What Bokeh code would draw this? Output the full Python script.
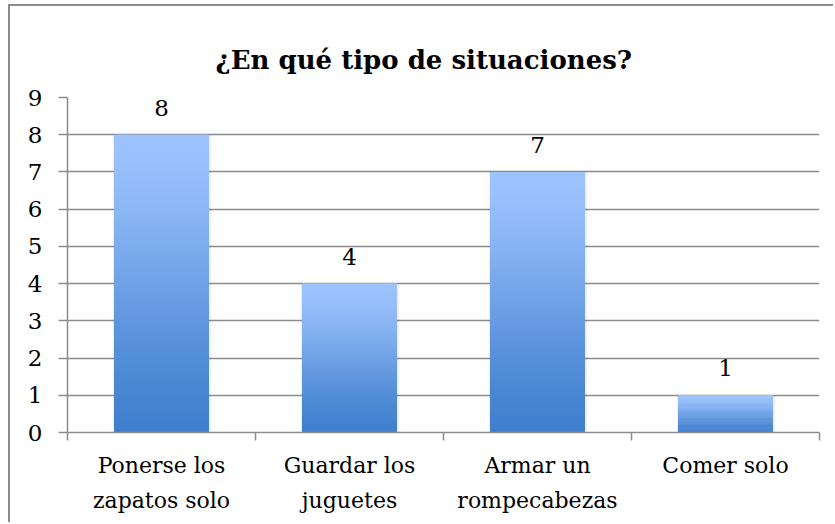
from bokeh.plotting import figure
from bokeh.models import Range1d, FixedTicker
from bokeh.core.properties import value
from bokeh.embed import file_html
from bokeh.resources import INLINE

categories = ["Ponerse los zapatos solo", "Guardar los juguetes", "Armar un rompecabezas", "Comer solo"]
tick_labels = ["Ponerse los\nzapatos solo", "Guardar los\njuguetes", "Armar un\nrompecabezas", "Comer solo"]
values = [8, 4, 7, 1]
y_ticks = [0, 1, 2, 3, 4, 5, 6, 7, 8, 9]
title_text = "¿En qué tipo de situaciones?"

FONT = "DejaVu Serif"
GRID = "#8c8c8c"

p = figure(width=825, height=518, output_backend="svg", toolbar_location=None,
           x_range=Range1d(0, len(categories)), y_range=Range1d(0, 9),
           min_border_left=57, min_border_right=16, min_border_top=91, min_border_bottom=92,
           title=title_text)
p.outline_line_color = None
p.background_fill_color = "white"
p.border_fill_color = "white"
p.styles = {"border-left": "2px solid #8c8c8c", "border-top": "2px solid #8c8c8c",
            "margin-left": "8px", "margin-top": "4px"}

p.title.align = "left"
p.title.offset = 148
p.title.standoff = 46
p.title.text_font = FONT
p.title.text_font_size = "26px"
p.title.text_font_style = "bold"
p.title.text_color = "black"

# gradient bars: slices whose colours go from dark (bottom) to light (top)
bottom_rgb = (64, 127, 206)
top_rgb = (158, 196, 255)
N = 80
xs = [i + 0.5 for i in range(len(categories))]
bw = 0.505
L, R, B, T, C = [], [], [], [], []
for x, v in zip(xs, values):
    for k in range(N):
        f = (k + 0.5) / N
        g = f * f * (3 - 2 * f)
        g = 0.5 * g + 0.5 * f
        rgb = tuple(int(round(b + (t - b) * g)) for b, t in zip(bottom_rgb, top_rgb))
        L.append(x - bw / 2); R.append(x + bw / 2)
        B.append(v * k / N); T.append(min(v, v * (k + 2) / N))
        C.append("#%02x%02x%02x" % rgb)
# soft shadow
p.quad(left=[x - bw / 2 - 0.006 for x in xs], right=[x + bw / 2 + 0.012 for x in xs],
       bottom=[0] * len(values), top=[v + 0.01 for v in values],
       fill_color="#000000", fill_alpha=0.06, line_color=None)
p.quad(left=L, right=R, bottom=B, top=T, fill_color=C, line_color=None)

p.text(x=xs, y=values, text=[str(v) for v in values], y_offset=-27,
       text_align="center", text_baseline="middle",
       text_font=value(FONT), text_font_size="23px", text_color="black")

# axes
p.yaxis.ticker = FixedTicker(ticks=y_ticks)
p.yaxis.major_tick_out = 9
p.yaxis.major_tick_in = 0
p.yaxis.minor_tick_out = 0
p.yaxis.minor_tick_in = 0
p.yaxis.axis_line_color = GRID
p.yaxis.axis_line_width = 1.5
p.yaxis.major_tick_line_color = GRID
p.yaxis.major_tick_line_width = 1.5
p.yaxis.major_label_text_font = FONT
p.yaxis.major_label_text_font_size = "23px"
p.yaxis.major_label_text_color = "black"
p.yaxis.major_label_standoff = 16

p.xaxis.ticker = FixedTicker(ticks=xs, minor_ticks=list(range(len(categories) + 1)))
p.xaxis.major_label_overrides = {x: lab for x, lab in zip(xs, tick_labels)}
p.xaxis.major_tick_out = 0
p.xaxis.major_tick_in = 0
p.xaxis.minor_tick_out = 8
p.xaxis.minor_tick_in = 0
p.xaxis.minor_tick_line_color = GRID
p.xaxis.minor_tick_line_width = 1.5
p.xaxis.axis_line_color = GRID
p.xaxis.axis_line_width = 1.5
p.xaxis.major_label_text_font = FONT
p.xaxis.major_label_text_font_size = "22px"
p.xaxis.major_label_text_color = "black"
p.xaxis.major_label_text_line_height = 1.4
p.xaxis.major_label_standoff = 12

p.xgrid.grid_line_color = None
p.ygrid.ticker = FixedTicker(ticks=y_ticks)
p.ygrid.grid_line_color = GRID
p.ygrid.grid_line_width = 1.5

open("out.html", "w").write(file_html(p, INLINE))
